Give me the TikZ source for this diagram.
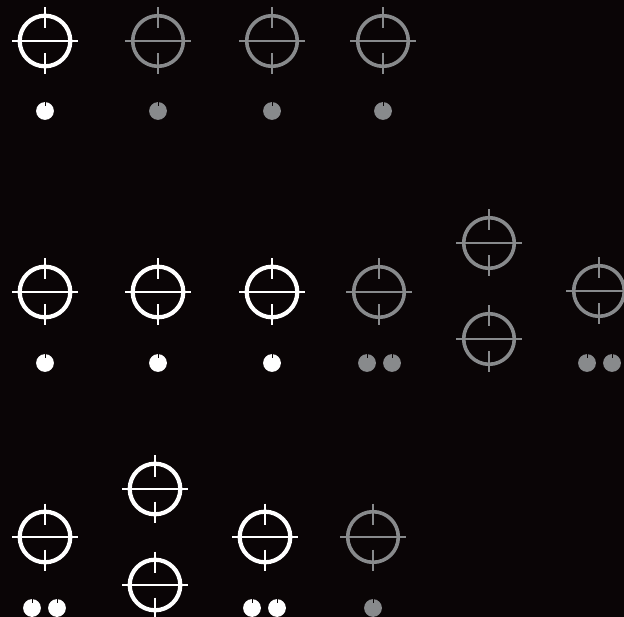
\documentclass[tikz,border=0pt]{standalone}
\definecolor{hobbg}{RGB}{10,5,6}
\definecolor{hobon}{RGB}{255,255,255}
\definecolor{hoboff}{RGB}{136,138,140}
\begin{document}
\begin{tikzpicture}[x=1pt, y=-1pt, line cap=butt,
  pics/burner/.style 2 args={code={
    \draw[draw=#1, line width=2pt] (-33,0) -- (33,0) (0,-33.5) -- (0,-12.5) (0,12.5) -- (0,33.5);
    \draw[draw=#1, line width=#2] (0,0) circle (25.3);}},
  pics/knob/.style={code={
    \fill[#1] (0,0) circle (8.9);
    \draw[hobbg, line width=1pt] (0,-9.5) -- (0,-5);}}]

% panel
\fill[hobbg] (0,0) rectangle (624,617);
\clip (0,0) rectangle (624,617);

% top row: one lit, three off
\pic at (45,41) {burner={hobon}{4.2pt}};
\foreach \xx in {158, 272, 383} \pic at (\xx,41) {burner={hoboff}{3.6pt}};
\pic at (45,111) {knob=hobon};
\foreach \xx in {158, 272, 383} \pic at (\xx,111) {knob=hoboff};

% middle row: three lit, then the off group with a stacked pair
\foreach \xx in {45, 158, 272} {
  \pic at (\xx,292) {burner={hobon}{4.2pt}};
  \pic at (\xx,363) {knob=hobon};
}
\foreach \xx/\yy in {379/292, 489/243, 489/339, 599/291}
  \pic at (\xx,\yy) {burner={hoboff}{3.6pt}};
\foreach \xx in {367, 392, 587, 612} \pic at (\xx,363) {knob=hoboff};

% bottom row: lit group with a stacked pair, one off
\foreach \xx/\yy in {45/537, 155/489, 155/585, 265/537}
  \pic at (\xx,\yy) {burner={hobon}{4.2pt}};
\pic at (373,537) {burner={hoboff}{3.6pt}};
\foreach \xx in {32, 57, 252, 277} \pic at (\xx,608) {knob=hobon};
\pic at (373,608) {knob=hoboff};

\end{tikzpicture}
\end{document}
